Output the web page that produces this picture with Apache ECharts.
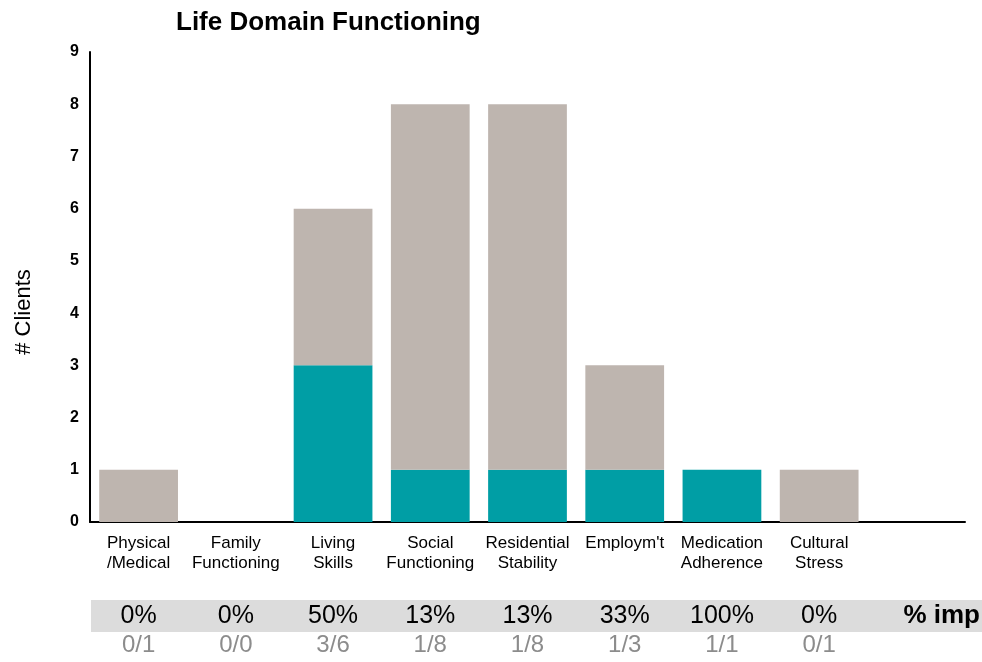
<!DOCTYPE html>
<html>
<head>
<meta charset="utf-8">
<script src="https://cdn.jsdelivr.net/npm/echarts@6/dist/echarts.min.js"></script>
<style>
  html, body { margin: 0; padding: 0; background: #fff; }
  #chart { width: 982px; height: 662px; }
</style>
</head>
<body>
<div id="chart"></div>
<script>
// domains (last slot is empty, as in the original)
var categories = ['Physical\n/Medical', 'Family\nFunctioning', 'Living\nSkills', 'Social\nFunctioning',
  'Residential\nStability', "Employm't", 'Medication\nAdherence', 'Cultural\nStress', '']
// number of clients per domain
var totals = [1, 0, 6, 8, 8, 3, 1, 1, null]
// clients who improved
var improved = [0, 0, 3, 1, 1, 1, 1, 0, null]
var yTicks = [0, 1, 2, 3, 4, 5, 6, 7, 8, 9]

var rest = totals.map(function (t, i) { return t == null ? null : t - improved[i] })
var pctLabels = totals.map(function (t, i) {
  if (t == null) return ''
  return (t ? Math.round(improved[i] / t * 100) : 0) + '%'
})
var fracLabels = totals.map(function (t, i) {
  return t == null ? '' : improved[i] + '/' + t
})

var chart = echarts.init(document.getElementById('chart'))
var font = '"Liberation Sans", Arial, sans-serif'

chart.setOption({
  animation: false,
  textStyle: { fontFamily: font },
  title: {
    text: 'Life Domain Functioning',
    left: 171,
    top: 5,
    textStyle: { fontSize: 26, fontWeight: 'bold', color: '#000', fontFamily: font }
  },
  graphic: [
    { type: 'rect', left: 91, top: 600, z: -10, shape: { width: 891, height: 32 }, style: { fill: '#dcdcdc' } },
    { type: 'text', right: 2, top: 603, style: { text: '% imp', font: 'bold 26px ' + font, fill: '#000' } },
    { type: 'text', x: 24, y: 312, rotation: Math.PI / 2,
      style: { text: '# Clients', font: '22px ' + font, fill: '#000', align: 'center', verticalAlign: 'middle' } }
  ],
  grid: { left: 90, right: 17, top: 52, bottom: 140, containLabel: false },
  xAxis: [{
    type: 'category',
    data: categories,
    axisLine: { lineStyle: { color: '#000', width: 2 } },
    axisTick: { show: false },
    axisLabel: { color: '#000', fontSize: 17, lineHeight: 20, margin: 11, interval: 0, fontFamily: font }
  }, {
    type: 'category',
    position: 'bottom',
    offset: 81,
    data: pctLabels,
    axisLine: { show: false },
    axisTick: { show: false },
    axisLabel: { color: '#000', fontSize: 25, lineHeight: 26, margin: 0, interval: 0, verticalAlign: 'top', fontFamily: font }
  }, {
    type: 'category',
    position: 'bottom',
    offset: 111,
    data: fracLabels,
    axisLine: { show: false },
    axisTick: { show: false },
    axisLabel: { color: '#8c8c8c', fontSize: 24, lineHeight: 24, margin: 0, interval: 0, verticalAlign: 'top', fontFamily: font }
  }],
  yAxis: {
    type: 'value',
    min: yTicks[0],
    max: yTicks[yTicks.length - 1],
    interval: 1,
    axisLine: { show: true, lineStyle: { color: '#000', width: 2 } },
    axisTick: { show: false },
    splitLine: { show: false },
    axisLabel: { color: '#000', fontSize: 16, fontWeight: 'bold', margin: 11, fontFamily: font }
  },
  series: [{
    name: 'Improved',
    type: 'bar',
    stack: 'n',
    barCategoryGap: '19%',
    itemStyle: { color: '#009ea5' },
    data: improved
  }, {
    name: 'Not improved',
    type: 'bar',
    stack: 'n',
    barCategoryGap: '19%',
    itemStyle: { color: '#beb5af' },
    data: rest
  }]
})
</script>
</body>
</html>
